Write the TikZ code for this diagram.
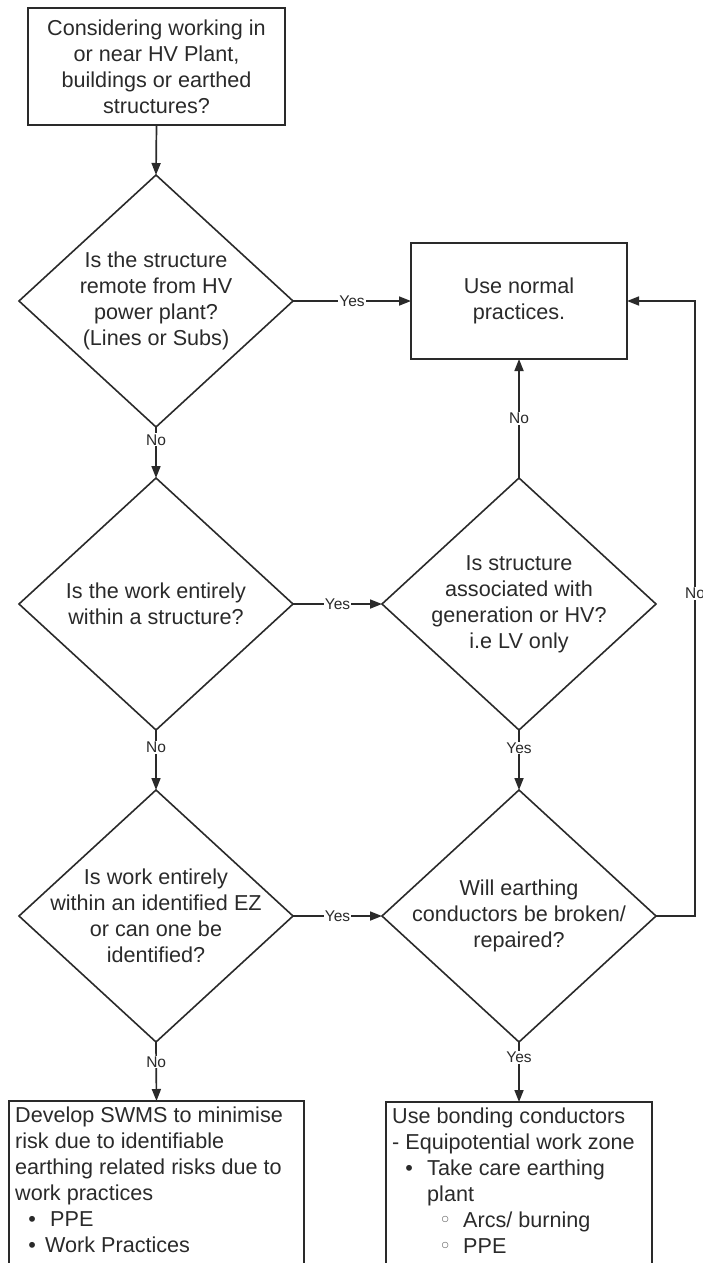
\documentclass[tikz,border=0pt]{standalone}
\usepackage{fontspec}
\setmainfont{Liberation Sans}
\newfontfamily\symfont{DejaVu Sans}
\usetikzlibrary{shapes.geometric,arrows.meta}
\definecolor{ink}{HTML}{2A2A2A}
\begin{document}
\begin{tikzpicture}[x=1pt,y=-1pt,
  every node/.style={text=ink},
  box/.style={draw=ink, line width=2pt, rectangle, inner sep=0pt, outer sep=0pt, align=center,
    font=\fontsize{21.6}{26}\selectfont},
  dia/.style={draw=ink, line width=1.6pt, diamond, minimum width=274pt, minimum height=252pt,
    inner sep=0pt, outer sep=0pt},
  maintext/.style={font=\fontsize{21.6}{26}\selectfont, align=center, inner sep=0pt},
  listtext/.style={font=\fontsize{21.6}{26}\selectfont, align=left, inner sep=0pt, anchor=north west},
  lab/.style={font=\fontsize{15.5}{18}\selectfont, fill=white, inner sep=1pt},
  conn/.style={draw=ink, line width=1.7pt, -{Triangle[length=12pt,width=9pt]}},
]
\useasboundingbox (0,0) rectangle (703,1263);

% boxes
\node[box, minimum width=257pt, minimum height=117pt] (start) at (156.5,66.5)
  {Considering working in\\or near HV Plant,\\buildings or earthed\\structures?};
\node[box, minimum width=216pt, minimum height=116pt] (normal) at (519,301)
  {Use normal\\practices.};

% diamonds
\node[dia] (d1) at (156,301) {};
\node[maintext] (t1) at (d1.center) {Is the structure\\remote from HV\\power plant?\\(Lines or Subs)};
\node[dia] (d2) at (156,604) {};
\node[maintext] (t2) at (d2.center) {Is the work entirely\\within a structure?};
\node[dia] (d3) at (519,604) {};
\node[maintext] (t3) at (d3.center) {Is structure\\associated with\\generation or HV?\\i.e LV only};
\node[dia] (d5) at (156,916) {};
\node[maintext] (t5) at (d5.center) {Is work entirely\\within an identified EZ\\or can one be\\identified?};
\node[dia] (d6) at (519,916) {};
\node[maintext] (t6) at (d6.center) {Will earthing\\conductors be broken/\\repaired?};

% bottom boxes (run past the bottom edge)
\node[box, anchor=north west, minimum width=295pt, minimum height=200pt] (sl) at (9,1101) {};
\node[listtext] (slt) at (15,1107) {Develop SWMS to minimise\\risk due to identifiable\\earthing related risks due to\\work practices\\
  \hspace*{17pt}\makebox[0pt][c]{•}\hspace*{18pt}PPE\\
  \hspace*{17pt}\makebox[0pt][c]{•}\hspace*{13pt}Work Practices};
\node[box, anchor=north west, minimum width=266pt, minimum height=200pt] (sr) at (386,1102) {};
\node[listtext] (srt) at (392,1108) {Use bonding conductors\\- Equipotential work zone\\
  \hspace*{17pt}\makebox[0pt][c]{•}\hspace*{18pt}Take care earthing\\
  \hspace*{35pt}plant\\
  \hspace*{53pt}\makebox[0pt][c]{\color{ink!70}\symfont ◦}\hspace*{18pt}Arcs/ burning\\
  \hspace*{53pt}\makebox[0pt][c]{\color{ink!70}\symfont ◦}\hspace*{18pt}PPE};

% connectors
\coordinate (r1) at (695,916);
\coordinate (r2) at (695,301);
\draw[conn] (start.south) -- (d1.north);
\draw[conn] (d1.east) -- node[lab]{Yes} (normal.west);
\draw[conn] (d1.south) -- node[lab,pos=0.25]{No} (d2.north);
\draw[conn] (d2.east) -- node[lab]{Yes} (d3.west);
\draw[conn] (d3.north) -- node[lab]{No} (normal.south);
\draw[conn] (d2.south) -- node[lab,pos=0.29]{No} (d5.north);
\draw[conn] (d3.south) -- node[lab,pos=0.3]{Yes} (d6.north);
\draw[conn] (d5.east) -- node[lab]{Yes} (d6.west);
\draw[conn] (d6.east) -- (r1) -- node[lab,pos=0.525]{No} (r2) -- (normal.east);
\draw[conn] (d5.south) -- node[lab,pos=0.34]{No} (sl.north);
\draw[conn] (d6.south) -- node[lab,pos=0.26]{Yes} (sr.north);
\end{tikzpicture}
\end{document}
